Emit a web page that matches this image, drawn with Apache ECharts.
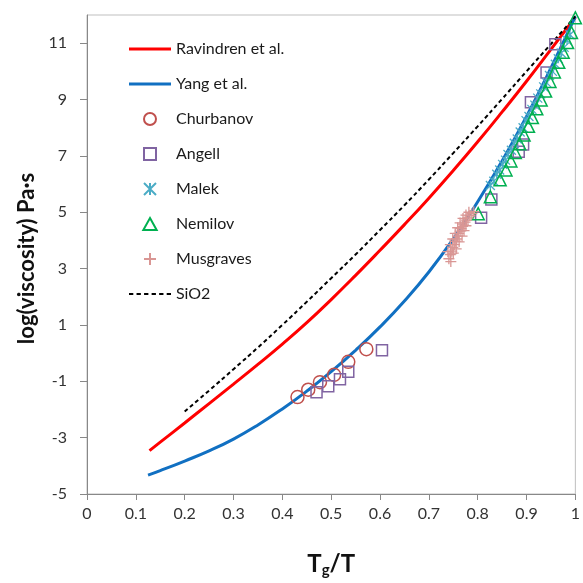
<!DOCTYPE html>
<html><head><meta charset="utf-8">
<script src="https://cdn.jsdelivr.net/npm/echarts@6/dist/echarts.min.js"></script>
<style>html,body{margin:0;padding:0;background:#fff}#c{width:583px;height:583px}</style>
</head><body><div id="c"></div>
<script>
// ---- data (x = Tg/T, y = log(viscosity) Pa·s) ----
const yTickValues = [-5, -3, -1, 1, 3, 5, 7, 9, 11];

const ravindren = [[0.128,-3.46],[0.15,-3.16],[0.2,-2.48],[0.25,-1.79],[0.3,-1.1],[0.35,-0.4],[0.4,0.32],[0.45,1.08],[0.5,1.9],[0.55,2.76],[0.6,3.65],[0.65,4.56],[0.7,5.5],[0.75,6.48],[0.8,7.5],[0.85,8.56],[0.9,9.65],[0.95,10.78],[1.0,11.92]];

const yang = [[0.125,-4.33],[0.15,-4.17],[0.2,-3.83],[0.25,-3.47],[0.3,-3.05],[0.35,-2.55],[0.4,-1.98],[0.45,-1.35],[0.5,-0.66],[0.55,0.1],[0.6,0.93],[0.65,1.85],[0.7,2.88],[0.75,4.05],[0.8,5.37],[0.85,6.82],[0.9,8.4],[0.95,10.12],[1.0,11.95]];

const sio2 = [[0.2,-2.07],[0.25,-1.33],[0.3,-0.57],[0.35,0.2],[0.4,1.0],[0.45,1.82],[0.5,2.66],[0.55,3.5],[0.6,4.37],[0.65,5.25],[0.7,6.16],[0.75,7.1],[0.8,8.05],[0.85,9.02],[0.9,10.0],[0.95,10.97],[1.0,11.95]];

const churbanov = [[0.431,-1.56],[0.453,-1.30],[0.477,-1.03],[0.506,-0.77],[0.535,-0.31],[0.572,0.14]];

const angell = [[0.470,-1.39],[0.494,-1.18],[0.518,-0.93],[0.535,-0.66],[0.604,0.10],[0.807,4.8],[0.828,5.45],[0.884,7.15],[0.893,7.4],[0.909,8.9],[0.941,9.96],[0.959,10.96]];

const malek = [[0.826,5.95],[0.833,6.1],[0.839,6.35],[0.845,6.5],[0.851,6.7],[0.857,6.85],[0.862,7.05],[0.869,7.2],[0.875,7.45],[0.881,7.6],[0.887,7.85],[0.893,8.0],[0.899,8.25],[0.905,8.4],[0.911,8.65],[0.917,8.8],[0.923,9.05],[0.929,9.2],[0.935,9.45],[0.941,9.6],[0.947,9.85],[0.953,10.0],[0.959,10.25],[0.965,10.45],[0.971,10.65],[0.977,10.85],[0.983,11.1],[0.989,11.3]];

const nemilov = [[0.801,4.95],[0.826,5.55],[0.846,6.15],[0.858,6.5],[0.868,6.82],[0.877,7.12],[0.886,7.43],[0.895,7.74],[0.904,8.05],[0.912,8.36],[0.921,8.67],[0.93,8.98],[0.939,9.3],[0.948,9.64],[0.957,9.98],[0.966,10.32],[0.975,10.68],[0.984,11.02],[0.992,11.38],[1.0,11.9]];

const musgraves = [[0.741,3.35],[0.745,3.25],[0.744,3.5],[0.739,3.6],[0.747,3.62],[0.75,3.55],[0.749,3.75],[0.744,3.85],[0.752,3.85],[0.756,3.7],[0.754,3.97],[0.749,4.05],[0.757,4.05],[0.762,3.95],[0.759,4.15],[0.754,4.25],[0.761,4.25],[0.768,4.15],[0.764,4.33],[0.759,4.45],[0.766,4.42],[0.772,4.35],[0.769,4.5],[0.764,4.62],[0.771,4.58],[0.776,4.52],[0.774,4.65],[0.77,4.78],[0.777,4.72],[0.780,4.8],[0.776,4.9],[0.784,4.88],[0.782,5.0],[0.788,4.95],[0.792,5.02]];

const FONT = 'Lato';
const chart = echarts.init(document.getElementById('c'), null, {renderer: 'canvas'});

function scatterSeries(name, data, symbol, size, color, bw) {
  return {
    name, type: 'scatter', data, symbol, symbolSize: size,
    itemStyle: {color: 'rgba(0,0,0,0)', borderColor: color, borderWidth: bw, opacity: 1},
    z: 3
  };
}

const LINE_ICON = 'path://M0,0H42V3H0Z';
const DASH_ICON = 'path://M0,0H4V2H0Z M7,0H11V2H7Z M14,0H18V2H14Z M21,0H25V2H21Z M28,0H32V2H28Z M35,0H39V2H35Z';

chart.setOption({
  animation: false,
  backgroundColor: '#fff',
  grid: {left: 87, right: 4, top: 15, bottom: 84, show: true, borderColor: '#bfbfbf', borderWidth: 1, containLabel: false},
  legend: {
    orient: 'vertical', left: 129, top: 39, padding: 0,
    itemWidth: 42, itemHeight: 12, itemGap: 15,
    textStyle: {fontFamily: FONT, fontSize: 16, color: '#1a1a1a', lineHeight: 20},
    data: [
      {name: 'Ravindren et al.', icon: LINE_ICON},
      {name: 'Yang et al.', icon: LINE_ICON},
      {name: 'Churbanov', icon: 'circle'},
      {name: 'Angell', icon: 'path://M0,0H10V10H0Z'},
      {name: 'Malek'},
      {name: 'Nemilov', icon: 'path://M5,0L10,9H0Z'},
      {name: 'Musgraves'},
      {name: 'SiO2', icon: DASH_ICON}
    ]
  },
  xAxis: {
    type: 'value', min: 0, max: 1, interval: 0.1,
    axisLine: {onZero: false, lineStyle: {color: '#888'}},
    axisTick: {show: true, length: 6, lineStyle: {color: '#888'}},
    axisLabel: {fontFamily: FONT, fontSize: 16, color: '#333', margin: 12},
    splitLine: {show: false},
    name: '{a|T}{b|g}{a|/T}',
    nameLocation: 'middle', nameGap: 58,
    nameTextStyle: {
      rich: {
        a: {fontFamily: FONT, fontSize: 24, fontWeight: 'bold', color: '#111', verticalAlign: 'top', lineHeight: 26},
        b: {fontFamily: FONT, fontSize: 15, fontWeight: 'bold', color: '#111', verticalAlign: 'bottom', lineHeight: 17, padding: [13, 0, 0, 0]}
      }
    }
  },
  yAxis: {
    type: 'value', min: -5, max: 12,
    axisLine: {show: true, onZero: false, lineStyle: {color: '#888'}},
    axisTick: {show: true, length: 7, lineStyle: {color: '#888'}, customValues: yTickValues},
    axisLabel: {fontFamily: FONT, fontSize: 16, color: '#333', margin: 20, customValues: yTickValues},
    splitLine: {show: false},
    name: 'log(viscosity) Pa·s',
    nameLocation: 'middle', nameGap: 47, nameRotate: 90,
    nameTextStyle: {fontFamily: FONT, fontSize: 22, fontWeight: 'bold', color: '#111', padding: [0, 8, 0, 0]}
  },
  series: [
    {name: 'Ravindren et al.', type: 'line', data: ravindren, smooth: true, symbol: 'none', showSymbol: false,
     lineStyle: {color: '#FF0000', width: 3}, itemStyle: {color: '#FF0000'}, z: 2},
    {name: 'Yang et al.', type: 'line', data: yang, smooth: true, symbol: 'none', showSymbol: false,
     lineStyle: {color: '#1170C2', width: 3}, itemStyle: {color: '#1170C2'}, z: 2},
    scatterSeries('Churbanov', churbanov, 'circle', 13, '#C0504D', 1.5),
    scatterSeries('Angell', angell, 'rect', 11, '#8064A2', 1.5),
    scatterSeries('Malek', malek, 'path://M0,0L10,10M10,0L0,10M5,0L5,10', 9, '#4BACC6', 1.3),
    scatterSeries('Nemilov', nemilov, 'triangle', 12, '#00B050', 1.5),
    scatterSeries('Musgraves', musgraves, 'path://M5,0L5,10M0,5L10,5', 11, '#D99694', 1.3),
    {name: 'SiO2', type: 'line', data: sio2, smooth: true, symbol: 'none', showSymbol: false,
     lineStyle: {color: '#000', width: 2, type: [4, 3]}, itemStyle: {color: '#000'}, z: 2}
  ]
});
</script></body></html>
